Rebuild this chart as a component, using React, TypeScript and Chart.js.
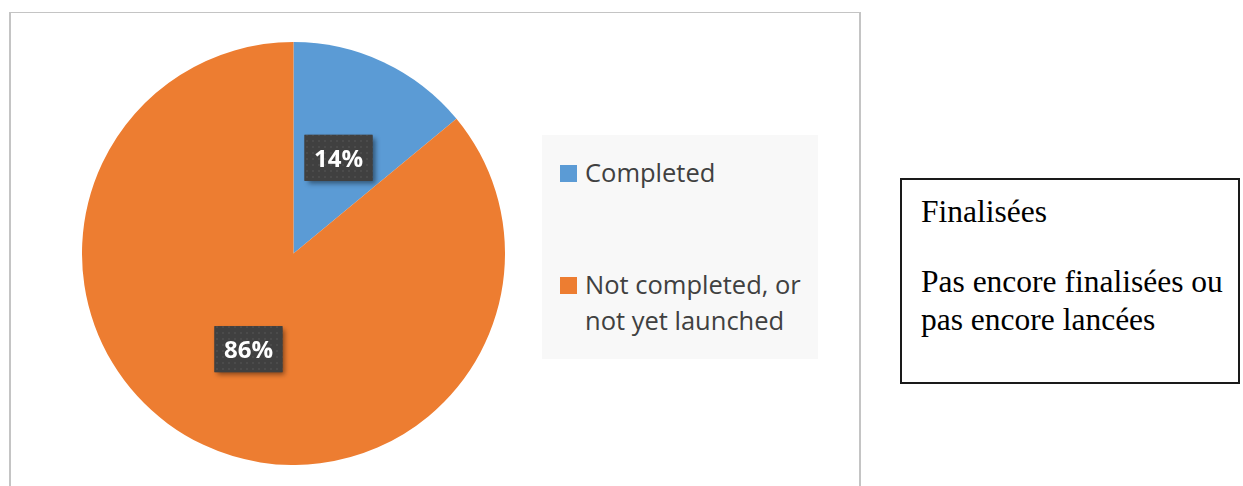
import React, { useEffect, useRef } from "react";
import { Chart, registerables } from "chart.js";

Chart.register(...registerables);

const categories = ["Completed", "Not completed, or not yet launched"];
const values = [14, 86];
const colors = ["#5B9BD5", "#ED7D31"];
const noteTitle = "Finalisées";
const noteLines = ["Pas encore finalisées ou", "pas encore lancées"];

const TEXT_COLOR = "#404040";

const boxLabelPlugin = {
  id: "boxLabels",
  afterDatasetsDraw(chart: any) {
    const ctx: CanvasRenderingContext2D = chart.ctx;
    const meta = chart.getDatasetMeta(0);
    const data = chart.data.datasets[0].data as number[];
    const total = data.reduce((a, b) => a + b, 0);
    const pc = document.createElement("canvas");
    pc.width = 6;
    pc.height = 6;
    const p = pc.getContext("2d")!;
    p.fillStyle = "#404040";
    p.fillRect(0, 0, 6, 6);
    p.fillStyle = "#4b4b4b";
    p.fillRect(2, 2, 2, 2);
    const pattern = ctx.createPattern(pc, "repeat");
    meta.data.forEach((arc: any, i: number) => {
      const { x, y } = arc.getCenterPoint();
      const w = 68;
      const h = 46;
      const label = Math.round((data[i] / total) * 100) + "%";
      ctx.save();
      ctx.shadowColor = "rgba(0,0,0,0.45)";
      ctx.shadowBlur = 5;
      ctx.shadowOffsetX = 3;
      ctx.shadowOffsetY = 3;
      ctx.fillStyle = "#404040";
      ctx.fillRect(x - w / 2, y - h / 2, w, h);
      ctx.restore();
      ctx.save();
      if (pattern) {
        ctx.fillStyle = pattern;
        ctx.fillRect(x - w / 2, y - h / 2, w, h);
      }
      ctx.fillStyle = "#ffffff";
      ctx.font = "bold 24px 'Open Sans'";
      ctx.textAlign = "center";
      ctx.textBaseline = "alphabetic";
      ctx.fillText(label, x, y + 9);
      ctx.restore();
    });
  },
};

export default function App() {
  const canvasRef = useRef<HTMLCanvasElement | null>(null);

  useEffect(() => {
    if (!canvasRef.current) return;
    const chart = new Chart(canvasRef.current, {
      type: "pie",
      data: {
        labels: categories,
        datasets: [
          {
            data: values,
            backgroundColor: colors,
            borderWidth: 0,
            hoverOffset: 0,
            offset: 0,
          },
        ],
      },
      options: {
        responsive: false,
        animation: false,
        events: [],
        layout: { padding: 0 },
        plugins: {
          legend: { display: false },
          tooltip: { enabled: false },
        },
      },
      plugins: [boxLabelPlugin],
    });
    return () => chart.destroy();
  }, []);

  return (
    <div
      style={{
        position: "absolute",
        left: 0,
        top: 0,
        width: 1243,
        height: 486,
        overflow: "hidden",
        background: "#ffffff",
      }}
    >
      {/* chart frame */}
      <div
        style={{
          position: "absolute",
          left: 9,
          top: 12,
          width: 848,
          height: 520,
          borderTop: "1px solid #c4c4c4",
          borderLeft: "2px solid #c4c4c4",
          borderRight: "2px solid #c4c4c4",
          boxSizing: "content-box",
        }}
      />
      <canvas
        ref={canvasRef}
        width={423}
        height={423}
        style={{ position: "absolute", left: 82, top: 42, width: 423, height: 423 }}
      />
      {/* legend */}
      <div
        style={{
          position: "absolute",
          left: 542,
          top: 135,
          width: 276,
          height: 224,
          background: "#f8f8f8",
        }}
      >
        {categories.map((c, i) => (
          <div key={c}>
            <div
              style={{
                position: "absolute",
                left: 18,
                top: 30 + i * 112,
                width: 17,
                height: 17,
                background: colors[i],
              }}
            />
            <div
              style={{
                position: "absolute",
                left: 43,
                top: 19 + i * 112,
                width: 232,
                fontFamily: "'Open Sans', sans-serif",
                fontSize: 25.5,
                lineHeight: "36px",
                color: TEXT_COLOR,
              }}
            >
              {c}
            </div>
          </div>
        ))}
      </div>
      {/* note box */}
      <div
        style={{
          position: "absolute",
          left: 900,
          top: 178,
          width: 336,
          height: 202,
          border: "2px solid #1a1a1a",
          fontFamily: "'Liberation Serif', 'Times New Roman', serif",
          fontSize: 31.5,
          lineHeight: "38px",
          color: "#000",
        }}
      >
        <div style={{ position: "absolute", left: 19, top: 13, whiteSpace: "nowrap" }}>{noteTitle}</div>
        {noteLines.map((l, i) => (
          <div
            key={l}
            style={{ position: "absolute", left: 19, top: 83 + i * 38, whiteSpace: "nowrap" }}
          >
            {l}
          </div>
        ))}
      </div>
    </div>
  );
}
